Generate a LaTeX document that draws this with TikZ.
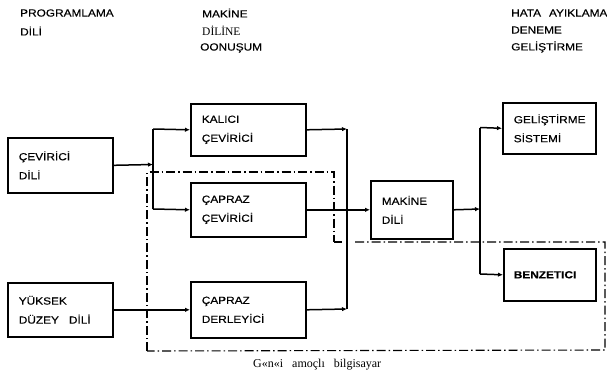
\documentclass[tikz,border=0pt]{standalone}
\usepackage{fontspec}
\setmainfont{Liberation Sans}[FakeStretch=1.15,FakeBold=0.3]
\newfontfamily\serifff{Liberation Serif}
\usetikzlibrary{arrows.meta}
\begin{document}
\begin{tikzpicture}[x=1pt,y=-1pt,
  box/.style={draw, line width=1.6pt, anchor=north west, align=left, inner xsep=11pt, inner ysep=0pt, font=\fontsize{10.3}{19}\selectfont},
  lbl/.style={anchor=west, inner sep=0pt, font=\fontsize{10.3}{12}\selectfont},
  conn/.style={line width=1.5pt, -{Latex[length=5pt,width=4.5pt]}},
  wire/.style={line width=1.5pt},
  dd/.style={line width=1.1pt, dash pattern=on 9pt off 3pt on 1.5pt off 3pt}]
\useasboundingbox (0,0) rectangle (607,378);
\fill[white] (0,0) rectangle (607,378);

% top labels
\node[lbl] (p1) at (20,13) {PROGRAMLAMA};
\node[lbl] (p2) at (20,31) {DİLİ};
\node[lbl] (m1) at (202,13) {MAKİNE};
\node[lbl, font=\serifff\fontsize{11.5}{12}\selectfont] (m2) at (202,31) {DİLİNE};
\node[lbl] (m3) at (200,48) {OONUŞUM};
\node[lbl] (h1) at (511,13) {HATA\hspace{8pt}AYIKLAMA};
\node[lbl] (h2) at (511,30) {DENEME};
\node[lbl] (h3) at (511,47) {GELİŞTİRME};

% boxes
\node[box, minimum width=105, minimum height=55, text width=83] (cdili) at (7,137) {ÇEVİRİCİ\\DİLİ};
\node[box, minimum width=115, minimum height=52, text width=93] (kalici) at (190,103) {KALICI\\ÇEVİRİCİ};
\node[box, minimum width=115, minimum height=54, text width=93] (capcev) at (190,182) {ÇAPRAZ\\ÇEVİRİCİ};
\node[box, minimum width=105, minimum height=54, text width=83] (yuksek) at (7,282) {YÜKSEK\\DÜZEY\hspace{10pt}DİLİ};
\node[box, minimum width=115, minimum height=56, text width=93] (capder) at (190,281) {ÇAPRAZ\\DERLEYİCİ};
\node[box, minimum width=82, minimum height=58, text width=60] (makine) at (370,180) {MAKİNE\\DİLİ};
\node[box, minimum width=93, minimum height=51, text width=71] (gelsis) at (502,102) {GELİŞTİRME\\SİSTEMİ};
\node[box, minimum width=92, minimum height=52, text width=72, inner xsep=8pt, font=\bfseries\fontsize{10.3}{19}\selectfont] (benz) at (503,248) {BENZETICI};

% junction coordinates
\coordinate (j1) at (153,164.5);
\coordinate (ja) at (153,129);
\coordinate (jb) at (153,209);
\coordinate (jk) at (347,129);
\coordinate (jd) at (347,309);
\coordinate (jm) at (480,209);
\coordinate (jg) at (480,127.5);
\coordinate (jz) at (480,274);

% connectors
\draw[conn] (cdili.east) -- (j1);
\draw[wire] (ja) -- (jb);
\draw[conn] (ja) -- (kalici.west);
\draw[conn] (jb) -- (capcev.west);
\draw[conn] (yuksek.east) -- (capder.west);
\draw[conn] (kalici.east) -- (jk);
\draw[conn] (capder.east) -- (jd);
\draw[wire] (jk) -- (jd);
\draw[conn] (capcev.east) -- (makine.west);
\draw[conn] (makine.east) -- (jm);
\draw[wire] (jg) -- (jz);
\draw[conn] (jg) -- (gelsis.west);
\draw[conn] (jz) -- (benz.west);

% dash-dot region
\coordinate (d1) at (147,351);
\coordinate (d2) at (147,172);
\coordinate (d3) at (334,172);
\coordinate (d4) at (334,242);
\coordinate (d5) at (342,242);
\coordinate (d6) at (355,242);
\coordinate (d7) at (605,242);
\coordinate (d8) at (605,350);
\draw[dd] (d1) -- (d2) -- (d3) -- (d4);
\draw[line width=1.1pt] (d4) -- (d5);
\draw[dd] (d6) -- (d7) -- (d8) -- (d1);

\node[anchor=west, inner sep=0pt, font=\serifff\fontsize{12}{13}\selectfont] (gen) at (253,365) {G«n«i\hspace{9pt}amoçlı\hspace{9pt}bilgisayar};
\end{tikzpicture}
\end{document}
